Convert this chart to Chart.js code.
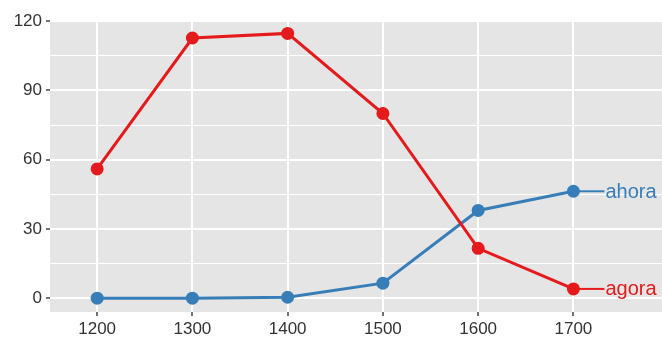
<!DOCTYPE html>
<html>
<head>
<meta charset="utf-8">
<script src="https://cdn.jsdelivr.net/npm/chart.js@4"></script>
<style>
  html, body { margin: 0; padding: 0; background: #fff; }
  #wrap { width: 662px; height: 340px; position: relative; }
</style>
</head>
<body>
<div id="wrap"><canvas id="chart"></canvas></div>
<script>
// data
const years = [1200, 1300, 1400, 1500, 1600, 1700];
const agora = [56, 112.7, 114.7, 80, 21.6, 4];
const ahora = [0, 0, 0.4, 6.5, 38, 46.3];
const seriesNames = ['agora', 'ahora'];
const yTicks = [0, 30, 60, 90, 120];
const yMinor = [15, 45, 75, 105];

const red = '#E41A1C';
const blue = '#377EB8';
const font = "'Liberation Sans', Arial, sans-serif";

// grey panel behind the plot
const panelBg = {
    id: 'panelBg',
    beforeDraw(chart) {
        const { ctx, chartArea: a } = chart;
        ctx.save();
        ctx.fillStyle = '#E5E5E5';
        ctx.fillRect(a.left, a.top, a.right - a.left, a.bottom - a.top);
        ctx.restore();
    }
};

// direct labels at the end of each line
const endLabels = {
    id: 'endLabels',
    beforeDatasetsDraw(chart) {
        const { ctx } = chart;
        chart.data.datasets.forEach((ds, i) => {
            const meta = chart.getDatasetMeta(i);
            const last = meta.data[meta.data.length - 1];
            ctx.save();
            ctx.strokeStyle = ds.borderColor;
            ctx.lineWidth = 2;
            ctx.beginPath();
            ctx.moveTo(last.x, last.y);
            ctx.lineTo(last.x + 31, last.y);
            ctx.stroke();
            ctx.fillStyle = ds.borderColor;
            ctx.font = '20px ' + font;
            ctx.textBaseline = 'middle';
            ctx.textAlign = 'left';
            ctx.fillText(ds.label, last.x + 32, last.y + 1);
            ctx.restore();
        });
    }
};

const isMajor = v => yTicks.includes(v);

new Chart(document.getElementById('chart'), {
    type: 'line',
    data: {
        datasets: [
            {
                label: seriesNames[0],
                data: years.map((x, i) => ({ x, y: agora[i] })),
                borderColor: red,
                backgroundColor: red,
                borderWidth: 3,
                pointRadius: 6.5,
                pointHoverRadius: 6.5,
                pointBorderWidth: 0,
                tension: 0
            },
            {
                label: seriesNames[1],
                data: years.map((x, i) => ({ x, y: ahora[i] })),
                borderColor: blue,
                backgroundColor: blue,
                borderWidth: 3,
                pointRadius: 6.5,
                pointHoverRadius: 6.5,
                pointBorderWidth: 0,
                tension: 0
            }
        ]
    },
    options: {
        responsive: true,
        maintainAspectRatio: false,
        animation: false,
        layout: { autoPadding: false, padding: { top: 20, right: 0, left: 0, bottom: 0 } },
        plugins: {
            legend: { display: false },
            tooltip: { enabled: false }
        },
        scales: {
            x: {
                type: 'linear',
                min: 1150.5,
                max: 1793,
                afterBuildTicks: scale => { scale.ticks = years.map(v => ({ value: v })); },
                afterFit: scale => {
                    scale.height = 28;
                    scale.paddingLeft = 0;
                    scale.paddingRight = 0;
                },
                border: { display: false },
                grid: {
                    color: '#FFFFFF',
                    lineWidth: 2,
                    drawTicks: true,
                    tickLength: 4,
                    tickColor: '#444',
                    tickWidth: 1.5
                },
                ticks: {
                    padding: 3,
                    color: '#333',
                    font: { family: font, size: 17 },
                    maxRotation: 0,
                    callback: v => String(v)
                }
            },
            y: {
                min: -6,
                max: 120.5,
                afterBuildTicks: scale => {
                    scale.ticks = [...yTicks, ...yMinor].sort((a, b) => a - b).map(v => ({ value: v }));
                },
                afterFit: scale => {
                    scale.width = 50;
                    scale.paddingTop = 0;
                    scale.paddingBottom = 0;
                },
                border: { display: false },
                grid: {
                    color: '#FFFFFF',
                    lineWidth: ctx => isMajor(ctx.tick.value) ? 2 : 1,
                    drawTicks: true,
                    tickLength: 4,
                    tickColor: ctx => isMajor(ctx.tick.value) ? '#444' : 'rgba(0,0,0,0)',
                    tickWidth: 1.5
                },
                ticks: {
                    padding: 4,
                    color: '#333',
                    font: { family: font, size: 17 },
                    autoSkip: false,
                    callback: v => isMajor(v) ? String(v) : ''
                }
            }
        }
    },
    plugins: [panelBg, endLabels]
});
</script>
</body>
</html>
